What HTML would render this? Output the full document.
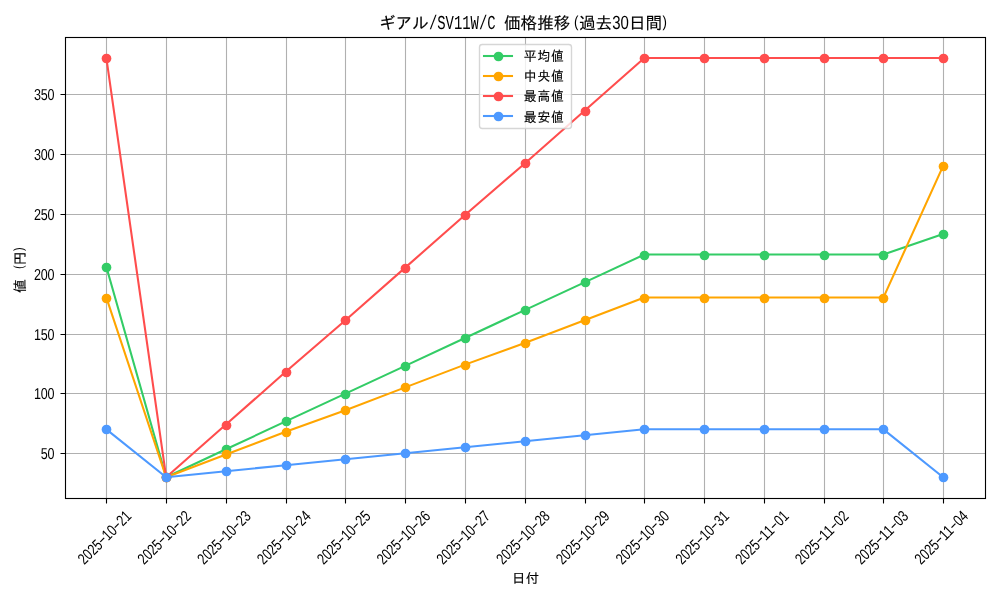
<!DOCTYPE html>
<html lang="ja"><head><meta charset="utf-8"><title>ギアル/SV11W/C 価格推移(過去30日間)</title>
<style>
html,body{margin:0;padding:0;background:#fff;overflow:hidden}
svg{display:block}
text{fill:#000;text-rendering:geometricPrecision}
.j{font-family:"Liberation Sans","IPAGothic","Noto Sans CJK JP",sans-serif;stroke:#000;stroke-width:.15px}
.n{font-family:"Liberation Sans","IPAGothic",sans-serif;stroke:none}
.t{text-anchor:middle}
.a{font-family:"Liberation Mono","IPAGothic",monospace;stroke:none}
.g{stroke:#b0b0b0;stroke-width:1.11;fill:none}
.k{stroke:#000;stroke-width:1.11;fill:none}
.d{fill:none;stroke-width:2.083;stroke-linejoin:round;stroke-linecap:butt}
</style></head>
<body>
<svg width="1000" height="600" viewBox="0 0 1000 600">
<rect width="1000" height="600" fill="#fff"/>
<g class="g"><path d="M106.5 37.5V498.5M166.5 37.5V498.5M226.5 37.5V498.5M286.5 37.5V498.5M345.5 37.5V498.5M405.5 37.5V498.5M465.5 37.5V498.5M525.5 37.5V498.5M585.5 37.5V498.5M644.5 37.5V498.5M704.5 37.5V498.5M764.5 37.5V498.5M824.5 37.5V498.5M883.5 37.5V498.5M943.5 37.5V498.5"/><path d="M65.5 453.5H985.5M65.5 393.5H985.5M65.5 334.5H985.5M65.5 274.5H985.5M65.5 214.5H985.5M65.5 154.5H985.5M65.5 94.5H985.5"/></g>
<g class="k"><path d="M106.5 498.5V503.5M166.5 498.5V503.5M226.5 498.5V503.5M286.5 498.5V503.5M345.5 498.5V503.5M405.5 498.5V503.5M465.5 498.5V503.5M525.5 498.5V503.5M585.5 498.5V503.5M644.5 498.5V503.5M704.5 498.5V503.5M764.5 498.5V503.5M824.5 498.5V503.5M883.5 498.5V503.5M943.5 498.5V503.5"/><path d="M65.5 453.5H60.5M65.5 393.5H60.5M65.5 334.5H60.5M65.5 274.5H60.5M65.5 214.5H60.5M65.5 154.5H60.5M65.5 94.5H60.5"/></g>
<g fill="#33cc66" stroke="#33cc66"><polyline class="d" points="106.389,267.031 166.158,477.221 225.928,449.315 285.697,421.41 345.467,393.624 405.236,365.838 465.006,337.933 524.775,310.147 584.544,282.361 644.314,254.575 704.083,254.575 763.853,254.575 823.622,254.575 883.392,254.575 943.161,234.095"/><g stroke="none"><circle cx="106.5" cy="267.5" r="4.86"/><circle cx="166.5" cy="477.5" r="4.86"/><circle cx="226.5" cy="449.5" r="4.86"/><circle cx="286.5" cy="421.5" r="4.86"/><circle cx="345.5" cy="394.5" r="4.86"/><circle cx="405.5" cy="366.5" r="4.86"/><circle cx="465.5" cy="338.5" r="4.86"/><circle cx="525.5" cy="310.5" r="4.86"/><circle cx="585.5" cy="282.5" r="4.86"/><circle cx="644.5" cy="255.5" r="4.86"/><circle cx="704.5" cy="255.5" r="4.86"/><circle cx="764.5" cy="255.5" r="4.86"/><circle cx="824.5" cy="255.5" r="4.86"/><circle cx="883.5" cy="255.5" r="4.86"/><circle cx="943.5" cy="234.5" r="4.86"/></g></g>
<g fill="#ffa500" stroke="#ffa500"><polyline class="d" points="106.389,297.572 166.158,477.221 225.928,454.465 285.697,431.71 345.467,410.152 405.236,387.396 465.006,364.641 524.775,343.083 584.544,320.327 644.314,297.572 704.083,297.572 763.853,297.572 823.622,297.572 883.392,297.572 943.161,165.829"/><g stroke="none"><circle cx="106.5" cy="298.5" r="4.86"/><circle cx="166.5" cy="477.5" r="4.86"/><circle cx="226.5" cy="454.5" r="4.86"/><circle cx="286.5" cy="432.5" r="4.86"/><circle cx="345.5" cy="410.5" r="4.86"/><circle cx="405.5" cy="387.5" r="4.86"/><circle cx="465.5" cy="365.5" r="4.86"/><circle cx="525.5" cy="343.5" r="4.86"/><circle cx="585.5" cy="320.5" r="4.86"/><circle cx="644.5" cy="298.5" r="4.86"/><circle cx="704.5" cy="298.5" r="4.86"/><circle cx="764.5" cy="298.5" r="4.86"/><circle cx="824.5" cy="298.5" r="4.86"/><circle cx="883.5" cy="298.5" r="4.86"/><circle cx="943.5" cy="166.5" r="4.86"/></g></g>
<g fill="#ff4d4d" stroke="#ff4d4d"><polyline class="d" points="106.389,58.039 166.158,477.221 225.928,424.524 285.697,371.827 345.467,320.327 405.236,267.63 465.006,214.933 524.775,163.433 584.544,110.736 644.314,58.039 704.083,58.039 763.853,58.039 823.622,58.039 883.392,58.039 943.161,58.039"/><g stroke="none"><circle cx="106.5" cy="58.5" r="4.86"/><circle cx="166.5" cy="477.5" r="4.86"/><circle cx="226.5" cy="425.5" r="4.86"/><circle cx="286.5" cy="372.5" r="4.86"/><circle cx="345.5" cy="320.5" r="4.86"/><circle cx="405.5" cy="268.5" r="4.86"/><circle cx="465.5" cy="215.5" r="4.86"/><circle cx="525.5" cy="163.5" r="4.86"/><circle cx="585.5" cy="111.5" r="4.86"/><circle cx="644.5" cy="58.5" r="4.86"/><circle cx="704.5" cy="58.5" r="4.86"/><circle cx="764.5" cy="58.5" r="4.86"/><circle cx="824.5" cy="58.5" r="4.86"/><circle cx="883.5" cy="58.5" r="4.86"/><circle cx="943.5" cy="58.5" r="4.86"/></g></g>
<g fill="#4d99ff" stroke="#4d99ff"><polyline class="d" points="106.389,429.314 166.158,477.221 225.928,471.233 285.697,465.244 345.467,459.256 405.236,453.268 465.006,447.279 524.775,441.291 584.544,435.303 644.314,429.314 704.083,429.314 763.853,429.314 823.622,429.314 883.392,429.314 943.161,477.221"/><g stroke="none"><circle cx="106.5" cy="429.5" r="4.86"/><circle cx="166.5" cy="477.5" r="4.86"/><circle cx="226.5" cy="471.5" r="4.86"/><circle cx="286.5" cy="465.5" r="4.86"/><circle cx="345.5" cy="459.5" r="4.86"/><circle cx="405.5" cy="453.5" r="4.86"/><circle cx="465.5" cy="447.5" r="4.86"/><circle cx="525.5" cy="441.5" r="4.86"/><circle cx="585.5" cy="435.5" r="4.86"/><circle cx="644.5" cy="429.5" r="4.86"/><circle cx="704.5" cy="429.5" r="4.86"/><circle cx="764.5" cy="429.5" r="4.86"/><circle cx="824.5" cy="429.5" r="4.86"/><circle cx="883.5" cy="429.5" r="4.86"/><circle cx="943.5" cy="477.5" r="4.86"/></g></g>
<rect class="k" x="65.5" y="37.5" width="920" height="461" stroke-linejoin="miter"/>
<rect x="479.5" y="44.5" width="92" height="84" rx="2.78" ry="2.78" fill="#fff" fill-opacity="0.8" stroke="#ccc" stroke-opacity="0.8" stroke-width="1.389"/>
<g fill="#33cc66" stroke="#33cc66"><path class="d" d="M482.96 56H513.04"/><circle stroke="none" cx="498.5" cy="56.5" r="4.86"/></g><text class="j" font-size="13.6" letter-spacing="0.974" transform="translate(523.7,61.4) scale(0.94,1)">平均値</text>
<g fill="#ffa500" stroke="#ffa500"><path class="d" d="M482.96 76H513.04"/><circle stroke="none" cx="498.5" cy="76.5" r="4.86"/></g><text class="j" font-size="13.6" letter-spacing="0.974" transform="translate(523.7,81.4) scale(0.94,1)">中央値</text>
<g fill="#ff4d4d" stroke="#ff4d4d"><path class="d" d="M482.96 96H513.04"/><circle stroke="none" cx="498.5" cy="96.5" r="4.86"/></g><text class="j" font-size="13.6" letter-spacing="0.974" transform="translate(523.7,101.4) scale(0.94,1)">最高値</text>
<g fill="#4d99ff" stroke="#4d99ff"><path class="d" d="M482.96 116H513.04"/><circle stroke="none" cx="498.5" cy="116.5" r="4.86"/></g><text class="j" font-size="13.6" letter-spacing="0.974" transform="translate(523.7,121.5) scale(0.94,1)">最安値</text>
<text class="n t" font-size="15.8" transform="translate(54.4,459) scale(0.795,1)" x="-12.83 -4.277">50</text>
<text class="n t" font-size="15.8" transform="translate(54.4,399) scale(0.795,1)" x="-21.384 -12.83 -4.277">100</text>
<text class="n t" font-size="15.8" transform="translate(54.4,340) scale(0.795,1)" x="-21.384 -12.83 -4.277">150</text>
<text class="n t" font-size="15.8" transform="translate(54.4,280) scale(0.795,1)" x="-21.384 -12.83 -4.277">200</text>
<text class="n t" font-size="15.8" transform="translate(54.4,220) scale(0.795,1)" x="-21.384 -12.83 -4.277">250</text>
<text class="n t" font-size="15.8" transform="translate(54.4,160) scale(0.795,1)" x="-21.384 -12.83 -4.277">300</text>
<text class="n t" font-size="15.8" transform="translate(54.4,100) scale(0.795,1)" x="-21.384 -12.83 -4.277">350</text>
<text class="n" font-size="15.8" transform="translate(104.389,537.3) rotate(-45)"><tspan x="-34" y="5.6" textLength="27.2" lengthAdjust="spacingAndGlyphs">2025</tspan><tspan x="-7.206" y="4.5" textLength="7.612" lengthAdjust="spacingAndGlyphs">-</tspan><tspan x="0" y="5.6" textLength="13.6" lengthAdjust="spacingAndGlyphs">10</tspan><tspan x="13.194" y="4.5" textLength="7.612" lengthAdjust="spacingAndGlyphs">-</tspan><tspan x="20.4" y="5.6" textLength="13.6" lengthAdjust="spacingAndGlyphs">21</tspan></text>
<text class="n" font-size="15.8" transform="translate(164.158,537.3) rotate(-45)"><tspan x="-34" y="5.6" textLength="27.2" lengthAdjust="spacingAndGlyphs">2025</tspan><tspan x="-7.206" y="4.5" textLength="7.612" lengthAdjust="spacingAndGlyphs">-</tspan><tspan x="0" y="5.6" textLength="13.6" lengthAdjust="spacingAndGlyphs">10</tspan><tspan x="13.194" y="4.5" textLength="7.612" lengthAdjust="spacingAndGlyphs">-</tspan><tspan x="20.4" y="5.6" textLength="13.6" lengthAdjust="spacingAndGlyphs">22</tspan></text>
<text class="n" font-size="15.8" transform="translate(223.928,537.3) rotate(-45)"><tspan x="-34" y="5.6" textLength="27.2" lengthAdjust="spacingAndGlyphs">2025</tspan><tspan x="-7.206" y="4.5" textLength="7.612" lengthAdjust="spacingAndGlyphs">-</tspan><tspan x="0" y="5.6" textLength="13.6" lengthAdjust="spacingAndGlyphs">10</tspan><tspan x="13.194" y="4.5" textLength="7.612" lengthAdjust="spacingAndGlyphs">-</tspan><tspan x="20.4" y="5.6" textLength="13.6" lengthAdjust="spacingAndGlyphs">23</tspan></text>
<text class="n" font-size="15.8" transform="translate(283.697,537.3) rotate(-45)"><tspan x="-34" y="5.6" textLength="27.2" lengthAdjust="spacingAndGlyphs">2025</tspan><tspan x="-7.206" y="4.5" textLength="7.612" lengthAdjust="spacingAndGlyphs">-</tspan><tspan x="0" y="5.6" textLength="13.6" lengthAdjust="spacingAndGlyphs">10</tspan><tspan x="13.194" y="4.5" textLength="7.612" lengthAdjust="spacingAndGlyphs">-</tspan><tspan x="20.4" y="5.6" textLength="13.6" lengthAdjust="spacingAndGlyphs">24</tspan></text>
<text class="n" font-size="15.8" transform="translate(343.467,537.3) rotate(-45)"><tspan x="-34" y="5.6" textLength="27.2" lengthAdjust="spacingAndGlyphs">2025</tspan><tspan x="-7.206" y="4.5" textLength="7.612" lengthAdjust="spacingAndGlyphs">-</tspan><tspan x="0" y="5.6" textLength="13.6" lengthAdjust="spacingAndGlyphs">10</tspan><tspan x="13.194" y="4.5" textLength="7.612" lengthAdjust="spacingAndGlyphs">-</tspan><tspan x="20.4" y="5.6" textLength="13.6" lengthAdjust="spacingAndGlyphs">25</tspan></text>
<text class="n" font-size="15.8" transform="translate(403.236,537.3) rotate(-45)"><tspan x="-34" y="5.6" textLength="27.2" lengthAdjust="spacingAndGlyphs">2025</tspan><tspan x="-7.206" y="4.5" textLength="7.612" lengthAdjust="spacingAndGlyphs">-</tspan><tspan x="0" y="5.6" textLength="13.6" lengthAdjust="spacingAndGlyphs">10</tspan><tspan x="13.194" y="4.5" textLength="7.612" lengthAdjust="spacingAndGlyphs">-</tspan><tspan x="20.4" y="5.6" textLength="13.6" lengthAdjust="spacingAndGlyphs">26</tspan></text>
<text class="n" font-size="15.8" transform="translate(463.006,537.3) rotate(-45)"><tspan x="-34" y="5.6" textLength="27.2" lengthAdjust="spacingAndGlyphs">2025</tspan><tspan x="-7.206" y="4.5" textLength="7.612" lengthAdjust="spacingAndGlyphs">-</tspan><tspan x="0" y="5.6" textLength="13.6" lengthAdjust="spacingAndGlyphs">10</tspan><tspan x="13.194" y="4.5" textLength="7.612" lengthAdjust="spacingAndGlyphs">-</tspan><tspan x="20.4" y="5.6" textLength="13.6" lengthAdjust="spacingAndGlyphs">27</tspan></text>
<text class="n" font-size="15.8" transform="translate(522.775,537.3) rotate(-45)"><tspan x="-34" y="5.6" textLength="27.2" lengthAdjust="spacingAndGlyphs">2025</tspan><tspan x="-7.206" y="4.5" textLength="7.612" lengthAdjust="spacingAndGlyphs">-</tspan><tspan x="0" y="5.6" textLength="13.6" lengthAdjust="spacingAndGlyphs">10</tspan><tspan x="13.194" y="4.5" textLength="7.612" lengthAdjust="spacingAndGlyphs">-</tspan><tspan x="20.4" y="5.6" textLength="13.6" lengthAdjust="spacingAndGlyphs">28</tspan></text>
<text class="n" font-size="15.8" transform="translate(582.544,537.3) rotate(-45)"><tspan x="-34" y="5.6" textLength="27.2" lengthAdjust="spacingAndGlyphs">2025</tspan><tspan x="-7.206" y="4.5" textLength="7.612" lengthAdjust="spacingAndGlyphs">-</tspan><tspan x="0" y="5.6" textLength="13.6" lengthAdjust="spacingAndGlyphs">10</tspan><tspan x="13.194" y="4.5" textLength="7.612" lengthAdjust="spacingAndGlyphs">-</tspan><tspan x="20.4" y="5.6" textLength="13.6" lengthAdjust="spacingAndGlyphs">29</tspan></text>
<text class="n" font-size="15.8" transform="translate(642.314,537.3) rotate(-45)"><tspan x="-34" y="5.6" textLength="27.2" lengthAdjust="spacingAndGlyphs">2025</tspan><tspan x="-7.206" y="4.5" textLength="7.612" lengthAdjust="spacingAndGlyphs">-</tspan><tspan x="0" y="5.6" textLength="13.6" lengthAdjust="spacingAndGlyphs">10</tspan><tspan x="13.194" y="4.5" textLength="7.612" lengthAdjust="spacingAndGlyphs">-</tspan><tspan x="20.4" y="5.6" textLength="13.6" lengthAdjust="spacingAndGlyphs">30</tspan></text>
<text class="n" font-size="15.8" transform="translate(702.083,537.3) rotate(-45)"><tspan x="-34" y="5.6" textLength="27.2" lengthAdjust="spacingAndGlyphs">2025</tspan><tspan x="-7.206" y="4.5" textLength="7.612" lengthAdjust="spacingAndGlyphs">-</tspan><tspan x="0" y="5.6" textLength="13.6" lengthAdjust="spacingAndGlyphs">10</tspan><tspan x="13.194" y="4.5" textLength="7.612" lengthAdjust="spacingAndGlyphs">-</tspan><tspan x="20.4" y="5.6" textLength="13.6" lengthAdjust="spacingAndGlyphs">31</tspan></text>
<text class="n" font-size="15.8" transform="translate(761.853,537.3) rotate(-45)"><tspan x="-34" y="5.6" textLength="27.2" lengthAdjust="spacingAndGlyphs">2025</tspan><tspan x="-7.206" y="4.5" textLength="7.612" lengthAdjust="spacingAndGlyphs">-</tspan><tspan x="0" y="5.6" textLength="13.6" lengthAdjust="spacingAndGlyphs">11</tspan><tspan x="13.194" y="4.5" textLength="7.612" lengthAdjust="spacingAndGlyphs">-</tspan><tspan x="20.4" y="5.6" textLength="13.6" lengthAdjust="spacingAndGlyphs">01</tspan></text>
<text class="n" font-size="15.8" transform="translate(821.622,537.3) rotate(-45)"><tspan x="-34" y="5.6" textLength="27.2" lengthAdjust="spacingAndGlyphs">2025</tspan><tspan x="-7.206" y="4.5" textLength="7.612" lengthAdjust="spacingAndGlyphs">-</tspan><tspan x="0" y="5.6" textLength="13.6" lengthAdjust="spacingAndGlyphs">11</tspan><tspan x="13.194" y="4.5" textLength="7.612" lengthAdjust="spacingAndGlyphs">-</tspan><tspan x="20.4" y="5.6" textLength="13.6" lengthAdjust="spacingAndGlyphs">02</tspan></text>
<text class="n" font-size="15.8" transform="translate(881.392,537.3) rotate(-45)"><tspan x="-34" y="5.6" textLength="27.2" lengthAdjust="spacingAndGlyphs">2025</tspan><tspan x="-7.206" y="4.5" textLength="7.612" lengthAdjust="spacingAndGlyphs">-</tspan><tspan x="0" y="5.6" textLength="13.6" lengthAdjust="spacingAndGlyphs">11</tspan><tspan x="13.194" y="4.5" textLength="7.612" lengthAdjust="spacingAndGlyphs">-</tspan><tspan x="20.4" y="5.6" textLength="13.6" lengthAdjust="spacingAndGlyphs">03</tspan></text>
<text class="n" font-size="15.8" transform="translate(941.161,537.3) rotate(-45)"><tspan x="-34" y="5.6" textLength="27.2" lengthAdjust="spacingAndGlyphs">2025</tspan><tspan x="-7.206" y="4.5" textLength="7.612" lengthAdjust="spacingAndGlyphs">-</tspan><tspan x="0" y="5.6" textLength="13.6" lengthAdjust="spacingAndGlyphs">11</tspan><tspan x="13.194" y="4.5" textLength="7.612" lengthAdjust="spacingAndGlyphs">-</tspan><tspan x="20.4" y="5.6" textLength="13.6" lengthAdjust="spacingAndGlyphs">04</tspan></text>
<text class="j" font-size="16.667"><tspan x="378.9" y="29">ギアル</tspan><tspan class="a" font-size="19.8" x="428.901" y="29" textLength="66.668" lengthAdjust="spacingAndGlyphs">/SV11W/C</tspan> <tspan x="503.902" y="29">価格推移</tspan><tspan class="n" font-size="15.8" x="573.927" y="27.1" textLength="4.42" lengthAdjust="spacingAndGlyphs">(</tspan><tspan x="578.904" y="29">過去</tspan><tspan class="n" font-size="19" x="612.238" y="29" textLength="16.667" lengthAdjust="spacingAndGlyphs">30</tspan><tspan x="628.905" y="29">日間</tspan><tspan class="n" font-size="15.8" x="662.596" y="27.1" textLength="4.42" lengthAdjust="spacingAndGlyphs">)</tspan></text>
<text class="j" font-size="13.4" letter-spacing="0.489" x="511.9" y="583">日付</text>
<text class="j" font-size="13.89" transform="translate(25.3,293) rotate(-90)"><tspan x="0" y="0">値</tspan> <tspan class="n" font-size="13.2" x="23.961" y="-2.3" textLength="3.692" lengthAdjust="spacingAndGlyphs">(</tspan><tspan x="27.78" y="0">円</tspan><tspan class="n" font-size="13.2" x="42.096" y="-2.3" textLength="3.692" lengthAdjust="spacingAndGlyphs">)</tspan></text>
</svg>
</body></html>
